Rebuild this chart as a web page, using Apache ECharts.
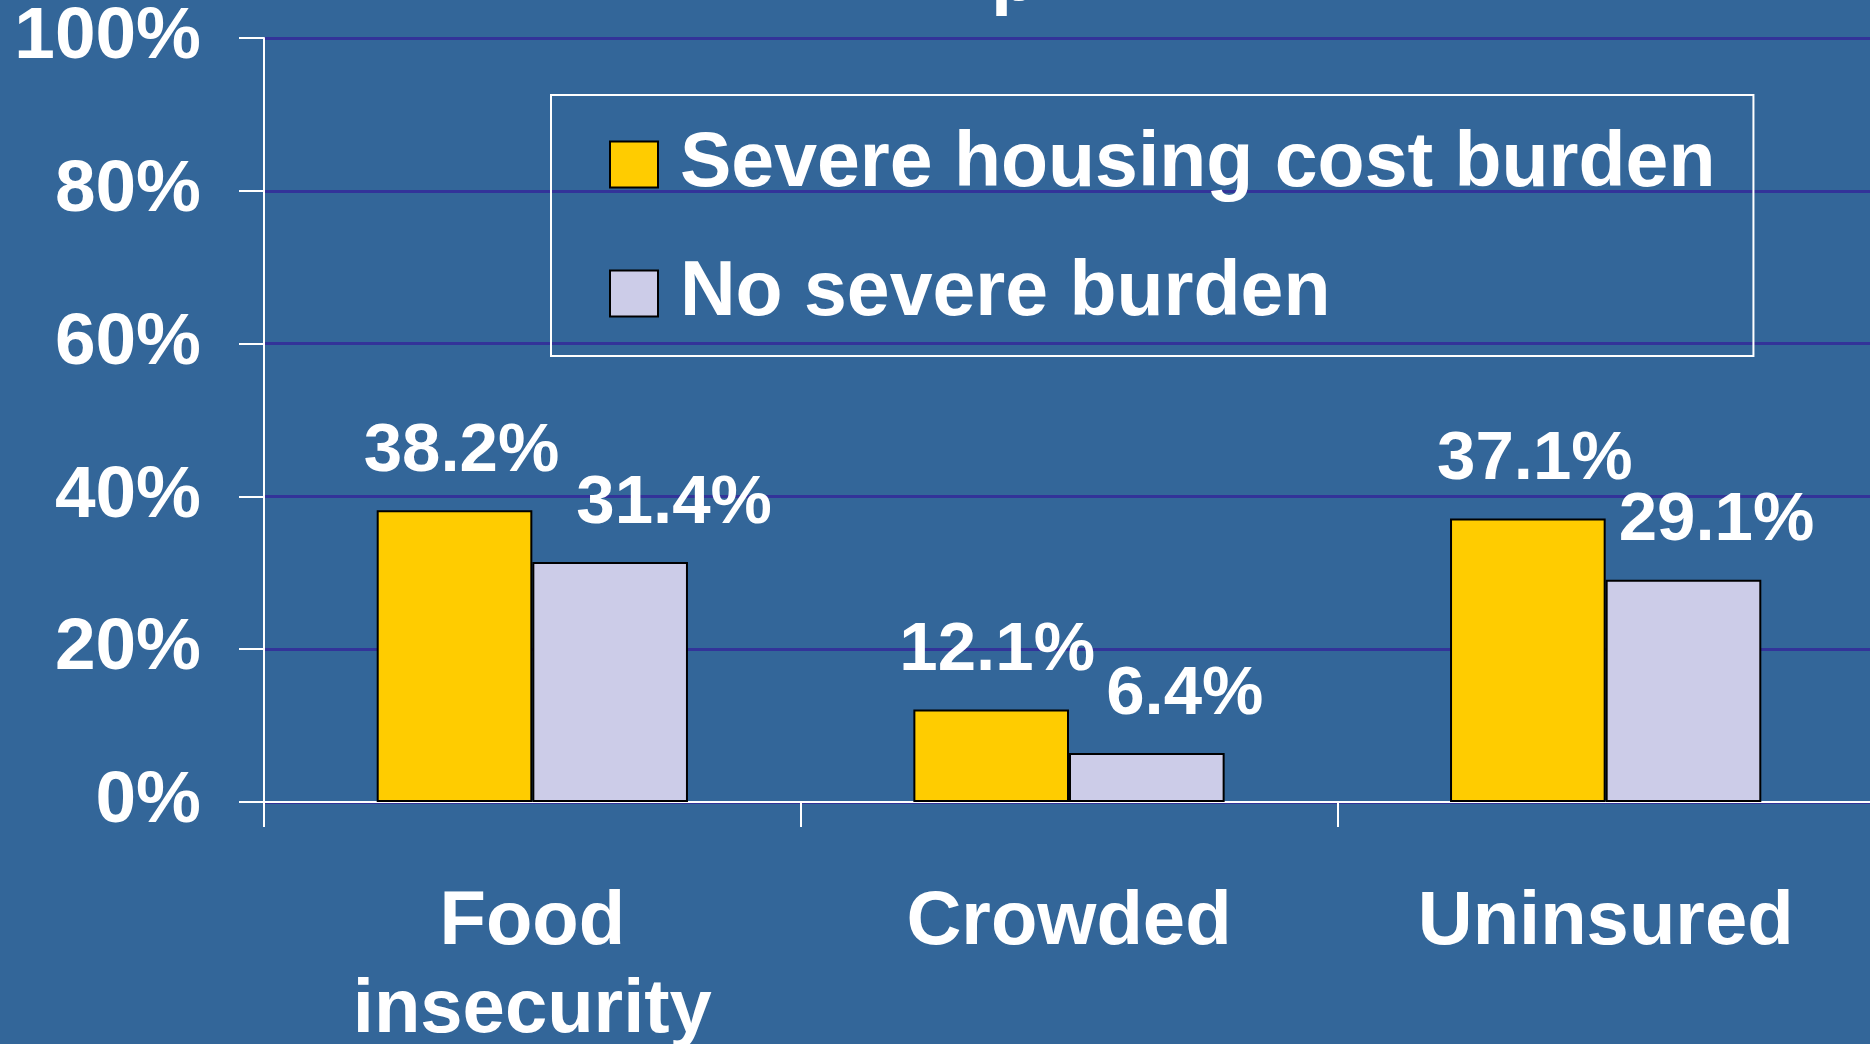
<!DOCTYPE html>
<html>
<head>
<meta charset="utf-8">
<script src="https://cdn.jsdelivr.net/npm/echarts@6/dist/echarts.min.js"></script>
<style>
  html, body { margin: 0; padding: 0; background: #336699; }
  #chart { width: 1870px; height: 1044px; }
</style>
</head>
<body>
<div id="chart"></div>
<script>
// data
var categories = ['Food\ninsecurity', 'Crowded', 'Uninsured'];
var seriesNames = ['Severe housing cost burden', 'No severe burden'];
var severeValues = [38.2, 12.1, 37.1];
var noSevereValues = [31.4, 6.4, 29.1];
var yTicks = [0, 20, 40, 60, 80, 100];

// label nudges seen in the original slide (pixels)
var severeLabelDx = [7, 6, 7];
var noSevereLabelDx = [64, 38, 33];

var FONT = '"Liberation Sans", Arial, sans-serif';

function buildData(values, dx) {
    return values.map(function (v, i) {
        return { value: v, label: { offset: [dx[i], 0] } };
    });
}

var myChart = echarts.init(document.getElementById('chart'));
var option = {
    backgroundColor: '#336699',
    animation: false,
    title: {
        text: 'p',
        left: 986,
        top: -64,
        textStyle: { color: '#fff', fontFamily: FONT, fontWeight: 'bold', fontSize: 76 }
    },
    legend: {
        orient: 'vertical',
        left: 551,
        top: 95,
        padding: [31, 38, 24, 58],
        borderColor: '#fff',
        borderWidth: 2,
        itemWidth: 48,
        itemHeight: 46,
        itemGap: 52,
        icon: 'rect',
        data: seriesNames,
        textStyle: {
            color: '#fff', fontFamily: FONT, fontWeight: 'bold', fontSize: 77,
            lineHeight: 62, padding: [14, 0, 0, 17]
        }
    },
    grid: { left: 264, top: 38, bottom: 242, right: -4, containLabel: false, outerBoundsMode: 'none' },
    xAxis: {
        type: 'category',
        data: categories,
        axisLine: { lineStyle: { color: '#fff', width: 2 } },
        axisTick: { show: true, length: 25, lineStyle: { color: '#fff', width: 2 } },
        axisLabel: {
            color: '#fff', fontFamily: FONT, fontWeight: 'bold', fontSize: 76,
            lineHeight: 88, margin: 77, interval: 0
        }
    },
    yAxis: {
        type: 'value',
        min: yTicks[0],
        max: yTicks[yTicks.length - 1],
        interval: yTicks[1] - yTicks[0],
        axisLine: { show: true, lineStyle: { color: '#fff', width: 2 } },
        axisTick: { show: true, length: 25, lineStyle: { color: '#fff', width: 2 } },
        splitLine: { lineStyle: { color: '#333399', width: 3 } },
        axisLabel: {
            color: '#fff', fontFamily: FONT, fontWeight: 'bold', fontSize: 73,
            margin: 63, formatter: '{value}%'
        }
    },
    series: [
        {
            name: seriesNames[0],
            type: 'bar',
            barGap: '0%',
            barCategoryGap: '42%',
            data: buildData(severeValues, severeLabelDx),
            itemStyle: { color: '#FFCC00', borderColor: '#000', borderWidth: 2 },
            label: {
                show: true, position: 'top', distance: 24,
                color: '#fff', fontFamily: FONT, fontWeight: 'bold', fontSize: 69,
                formatter: '{c}%'
            }
        },
        {
            name: seriesNames[1],
            type: 'bar',
            data: buildData(noSevereValues, noSevereLabelDx),
            itemStyle: { color: '#CCCCE8', borderColor: '#000', borderWidth: 2 },
            label: {
                show: true, position: 'top', distance: 24,
                color: '#fff', fontFamily: FONT, fontWeight: 'bold', fontSize: 69,
                formatter: '{c}%'
            }
        }
    ]
};
myChart.setOption(option);
window.onresize = myChart.resize;
</script>
</body>
</html>
